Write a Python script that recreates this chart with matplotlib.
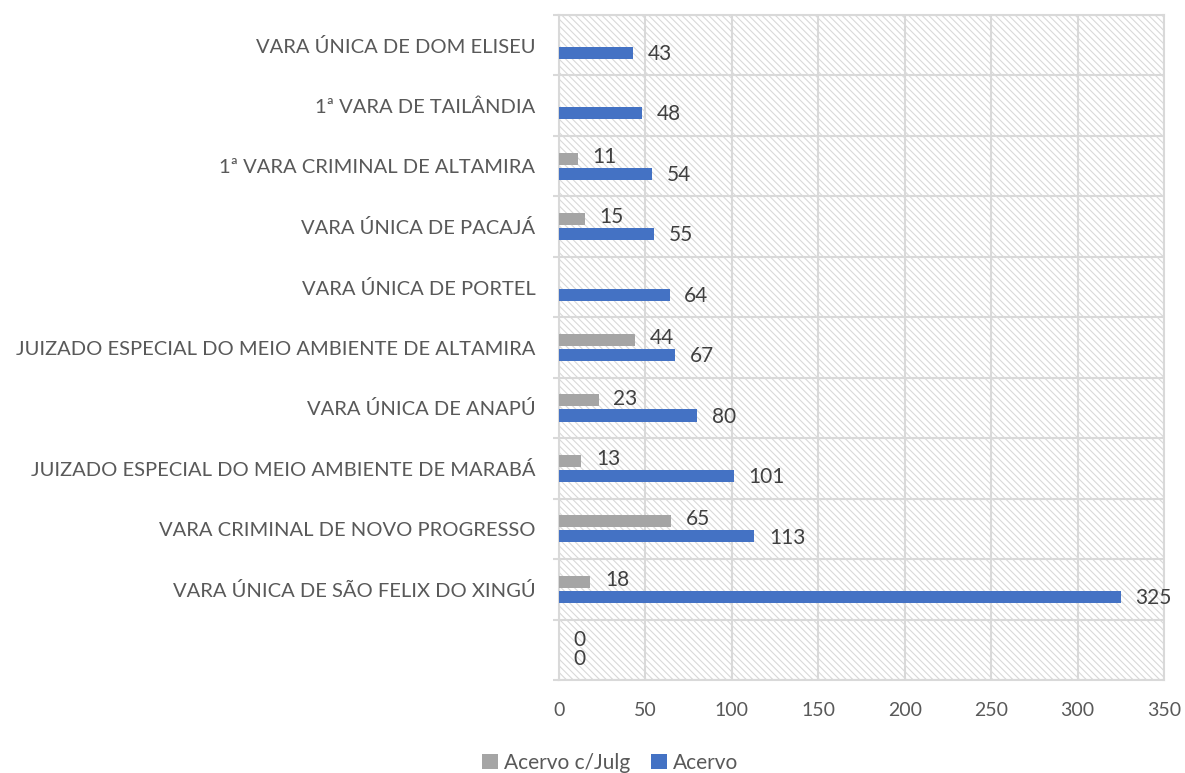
import numpy as np
import matplotlib.pyplot as plt
from matplotlib.patches import Rectangle

plt.rcParams['font.family'] = ['Lato', 'DejaVu Sans']
plt.rcParams['hatch.color'] = '#DCDCDC'
plt.rcParams['hatch.linewidth'] = 0.8

# Categories from bottom to top
categories = ['', 'VARA ÚNICA DE SÃO FELIX DO XINGÚ', 'VARA CRIMINAL DE NOVO PROGRESSO',
              'JUIZADO ESPECIAL DO MEIO AMBIENTE DE MARABÁ', 'VARA ÚNICA DE ANAPÚ',
              'JUIZADO ESPECIAL DO MEIO AMBIENTE DE ALTAMIRA', 'VARA ÚNICA DE PORTEL',
              'VARA ÚNICA DE PACAJÁ', '1ª VARA CRIMINAL DE ALTAMIRA',
              '1ª VARA DE TAILÂNDIA', 'VARA ÚNICA DE DOM ELISEU']
acervo = [0, 325, 113, 101, 80, 67, 64, 55, 54, 48, 43]
acervo_julg = [0, 18, 65, 13, 23, 44, None, 15, 11, None, None]
xticks = [0, 50, 100, 150, 200, 250, 300, 350]

text_color = '#595959'
grid_color = '#D9D9D9'

fig = plt.figure(figsize=(11.85, 7.73), dpi=100)
ax = fig.add_axes([0.4717, 0.1203, 0.5106, 0.8603])

# hatched background
ax.add_patch(Rectangle((0, 0), 1, 1, transform=ax.transAxes, facecolor='white',
                       edgecolor=grid_color, hatch='\\\\\\\\\\', linewidth=0, zorder=0))

y = np.arange(len(categories))
h = 0.2
off = 0.125

julg_vals = [v if v is not None else 0 for v in acervo_julg]
gray_bars = ax.barh(y + off, julg_vals, height=h, color='#A5A5A5', label='Acervo c/Julg', zorder=3)
blue_bars = ax.barh(y - off, acervo, height=h, color='#4472C4', label='Acervo', zorder=3)

for yi, v in zip(y, acervo_julg):
    if v is not None:
        ax.text(v + 8.5, yi + off + 0.03, str(v), va='center', ha='left',
                fontsize=15, color='#404040', zorder=4)
for yi, v in zip(y, acervo):
    ax.text(v + 8.5, yi - off - 0.02, str(v), va='center', ha='left',
            fontsize=15, color='#404040', zorder=4)

ax.set_xlim(0, 350)
ax.set_ylim(-0.5, len(categories) - 0.5)
ax.set_xticks(xticks)
ax.set_yticks(y)
ax.set_yticklabels(categories)
ax.set_yticks(np.arange(-0.5, len(categories), 1), minor=True)

ax.tick_params(axis='x', length=0, labelsize=14, labelcolor=text_color, pad=16)
ax.tick_params(axis='y', which='major', length=0, labelsize=14.5, labelcolor=text_color, pad=17)
ax.tick_params(axis='y', which='minor', length=4.5, color=grid_color, width=1.5)

ax.grid(axis='x', color=grid_color, linewidth=1.5, zorder=1)
ax.grid(axis='y', which='minor', color=grid_color, linewidth=1.5, zorder=1)
for s in ax.spines.values():
    s.set_color(grid_color)
    s.set_linewidth(1.5)

handles = [gray_bars, blue_bars]
fig.legend(handles, ['Acervo c/Julg', 'Acervo'], loc='lower center', ncol=2,
           bbox_to_anchor=(0.515, -0.024), frameon=False, fontsize=15,
           handlelength=0.75, handleheight=0.75, handletextpad=0.3, columnspacing=1.0,
           labelcolor=text_color)

fig.savefig('out.png', dpi=100)
